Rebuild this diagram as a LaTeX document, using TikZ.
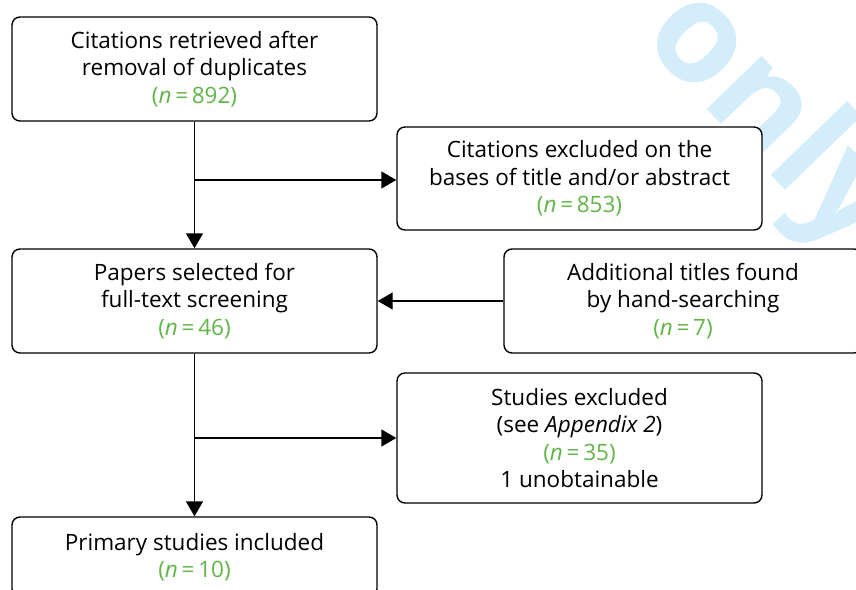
\documentclass[tikz,border=0pt]{standalone}
\usepackage{fontspec}
\setmainfont{Open Sans}
\usetikzlibrary{arrows.meta}
\definecolor{countgreen}{RGB}{96,182,72}
\definecolor{wmblue}{RGB}{212,237,250}
\tikzset{
  flowbox/.style={draw=black, line width=1.4pt, rounded corners=8pt, fill=white,
    align=center, inner sep=0pt, minimum width=365pt, minimum height=104pt,
    font=\fontsize{22.5}{27.5}\selectfont},
  flowarrow/.style={line width=1.4pt, -{Triangle[length=15pt,width=17pt]}},
}
\newcommand{\cnt}[1]{{\color{countgreen}(\textit{n}\,=\,#1)}}
\begin{document}
\begin{tikzpicture}[x=1pt,y=-1pt]
  \useasboundingbox (0,0) rectangle (856,589);
  \clip (0,0) rectangle (856,589);
  % background stamp
  \node[rotate=-46, text=wmblue, font=\fontsize{140}{140}\selectfont\bfseries] (stamp) at (770,122) {only};
  % boxes
  \node[flowbox] (b1) at (194.5,69) {Citations retrieved after\\removal of duplicates\\\cnt{892}};
  \node[flowbox, minimum height=103pt] (b2) at (579.5,178.5) {Citations excluded on the\\bases of title and/or abstract\\\cnt{853}};
  \node[flowbox] (b3) at (194.5,301) {Papers selected for\\full-text screening\\\cnt{46}};
  \node[flowbox, minimum width=358pt] (b4) at (683,301) {Additional titles found\\by hand-searching\\\cnt{7}};
  \node[flowbox, minimum height=130pt] (b5) at (579.5,438) {Studies excluded\\(see \textit{Appendix 2})\\\cnt{35}\\1 unobtainable};
  \node[flowbox, minimum height=80pt] (b6) at (194.5,557) {Primary studies included\\\cnt{10}};
  % connectors
  \coordinate (j1) at (194.5,180);
  \coordinate (j2) at (194.5,438);
  \draw[flowarrow] (b1.south) -- (b3.north);
  \draw[flowarrow] (j1) -- (j1 -| b2.west);
  \draw[flowarrow] (b4.west) -- (b3.east);
  \draw[flowarrow] (b3.south) -- (b6.north);
  \draw[flowarrow] (j2) -- (j2 -| b5.west);
\end{tikzpicture}
\end{document}
